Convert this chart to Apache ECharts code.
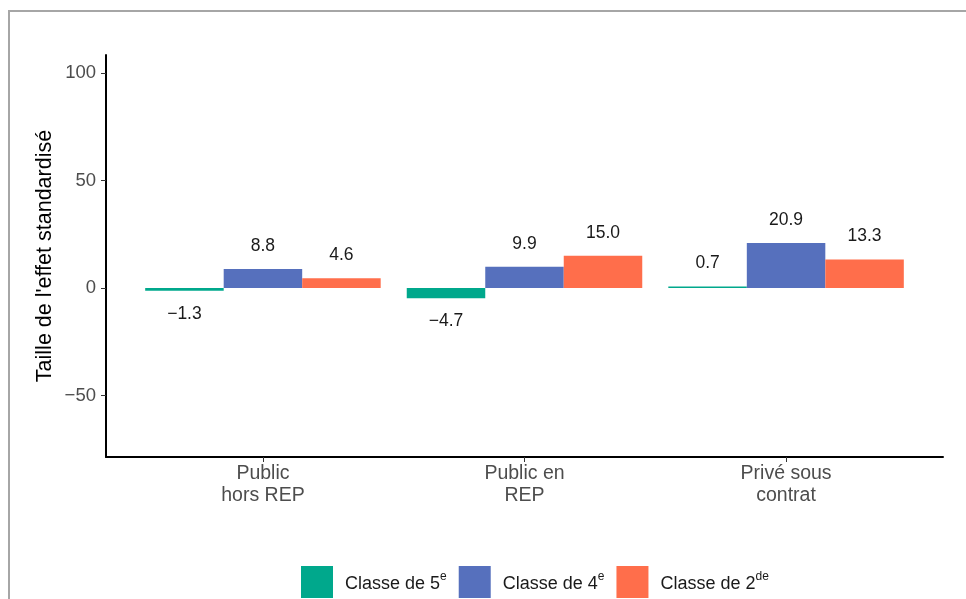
<!DOCTYPE html>
<html>
<head>
<meta charset="utf-8">
<script src="https://cdn.jsdelivr.net/npm/echarts@6/dist/echarts.min.js"></script>
<style>
  html, body { margin: 0; padding: 0; background: #fff; }
  #chart { width: 966px; height: 599px; }
</style>
</head>
<body>
<div id="chart"></div>
<script>
// categories et valeurs
const categories = ['Public\nhors REP', 'Public en\nREP', 'Privé sous\ncontrat'];
const seriesNames = ['Classe de 5e', 'Classe de 4e', 'Classe de 2de'];
const legendRich = ['{t|Classe de 5}{s|e}', '{t|Classe de 4}{s|e}', '{t|Classe de 2}{s|de}'];
const classe5 = [-1.3, -4.7, 0.7];
const classe4 = [8.8, 9.9, 20.9];
const classe2 = [4.6, 15.0, 13.3];
const yTicks = [-50, 0, 50, 100];
const colors = ['#00a88c', '#5670bd', '#ff6e4b'];

const font = "'Liberation Sans', Arial, sans-serif";
const chart = echarts.init(document.getElementById('chart'));

function fmt(v) {
  const s = Math.abs(v).toFixed(1);
  return v < 0 ? '\u2212' + s : s;
}

function makeSeries(name, values, color) {
  return {
    name: name,
    type: 'bar',
    barWidth: 78.5,
    barGap: '0%',
    itemStyle: { color: color },
    data: values.map((v, i) => ({
      value: [i + 1, v],
      label: { position: v < 0 ? 'bottom' : 'top' }
    })),
    label: {
      show: true,
      distance: 14,
      color: '#1a1a1a',
      fontSize: 17.5,
      fontFamily: font,
      formatter: p => fmt(p.value[1])
    }
  };
}

chart.setOption({
  animation: false,
  graphic: [{
    type: 'rect',
    shape: { x: 9, y: 11, width: 980, height: 620 },
    style: { fill: 'none', stroke: '#a6a6a6', lineWidth: 2 },
    silent: true
  }],
  grid: { left: 106, right: 23, top: 55, bottom: 142 },
  xAxis: {
    type: 'value',
    min: 0.4,
    max: 3.6,
    splitLine: { show: false },
    axisLine: { show: true, onZero: false, lineStyle: { color: '#000', width: 2 } },
    axisTick: { show: true, customValues: [1, 2, 3], length: 5, lineStyle: { color: '#333' } },
    axisLabel: {
      customValues: [1, 2, 3],
      formatter: v => categories[Math.round(v) - 1] || '',
      color: '#4d4d4d',
      fontSize: 19.5,
      lineHeight: 22,
      margin: 6,
      fontFamily: font
    }
  },
  yAxis: {
    type: 'value',
    min: -78.6,
    max: 108.4,
    name: "Taille de l'effet standardisé",
    nameLocation: 'middle',
    nameGap: 50,
    nameMoveOverlap: false,
    nameTextStyle: { color: '#000', fontSize: 21.5, fontFamily: font },
    splitLine: { show: false },
    axisLine: { show: true, onZero: false, lineStyle: { color: '#000', width: 2 } },
    axisTick: { show: true, customValues: yTicks, length: 5, lineStyle: { color: '#333' } },
    axisLabel: {
      customValues: yTicks,
      formatter: v => v < 0 ? '\u2212' + Math.abs(v) : String(v),
      color: '#4d4d4d',
      fontSize: 18.5,
      margin: 10,
      fontFamily: font
    }
  },
  legend: {
    left: 301,
    top: 566,
    padding: 0,
    itemWidth: 32,
    itemHeight: 32,
    itemGap: 12,
    icon: 'rect',
    data: seriesNames,
    formatter: name => legendRich[seriesNames.indexOf(name)],
    textStyle: {
      padding: [0, 0, 0, 7],
      rich: {
        t: { fontSize: 18, color: '#1a1a1a', fontFamily: font, lineHeight: 22, verticalAlign: 'bottom' },
        s: { fontSize: 12, color: '#1a1a1a', fontFamily: font, lineHeight: 22, verticalAlign: 'top' }
      }
    }
  },
  series: [
    makeSeries(seriesNames[0], classe5, colors[0]),
    makeSeries(seriesNames[1], classe4, colors[1]),
    makeSeries(seriesNames[2], classe2, colors[2])
  ]
});
</script>
</body>
</html>
